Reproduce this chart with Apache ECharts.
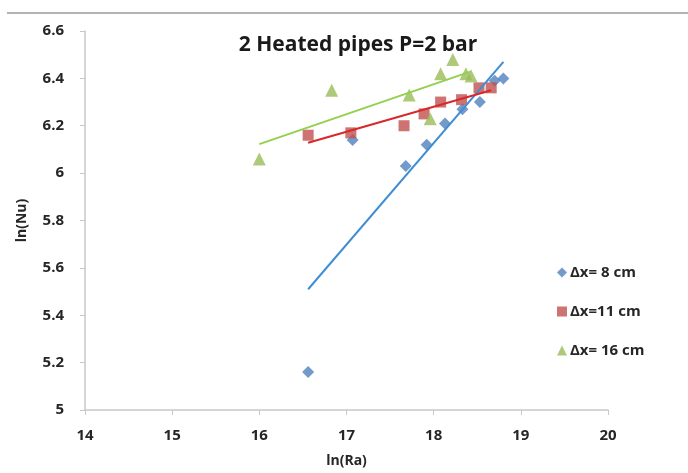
<!DOCTYPE html>
<html>
<head>
<meta charset="utf-8">
<script src="https://cdn.jsdelivr.net/npm/echarts@6/dist/echarts.min.js"></script>
<style>
  html, body { margin: 0; padding: 0; background: #fff; }
  #chart { width: 688px; height: 473px; }
</style>
</head>
<body>
<div id="chart"></div>
<script>
// ln(Ra) / ln(Nu) measurements for three pipe spacings
const dx8X  = [16.56, 17.07, 17.68, 17.92, 18.13, 18.33, 18.53, 18.70, 18.80];
const dx8Y  = [5.16, 6.14, 6.03, 6.12, 6.21, 6.27, 6.30, 6.39, 6.40];
const dx11X = [16.56, 17.05, 17.66, 17.89, 18.08, 18.32, 18.52, 18.66];
const dx11Y = [6.16, 6.17, 6.20, 6.25, 6.30, 6.31, 6.36, 6.36];
const dx16X = [16.00, 16.83, 17.72, 17.96, 18.08, 18.22, 18.37, 18.43];
const dx16Y = [6.06, 6.35, 6.33, 6.23, 6.42, 6.48, 6.42, 6.41];
const seriesNames = ['\u0394x= 8 cm', '\u0394x=11 cm', '\u0394x= 16 cm'];
const xTicks = [14, 15, 16, 17, 18, 19, 20];
const yTicks = [5, 5.2, 5.4, 5.6, 5.8, 6, 6.2, 6.4, 6.6];

const pairs = (xs, ys) => xs.map((x, i) => [x, ys[i]]);

// least-squares linear trendline spanning the data range
function trend(xs, ys) {
  const n = xs.length;
  const mx = xs.reduce((a, b) => a + b, 0) / n;
  const my = ys.reduce((a, b) => a + b, 0) / n;
  let sxy = 0, sxx = 0;
  for (let i = 0; i < n; i++) {
    sxy += (xs[i] - mx) * (ys[i] - my);
    sxx += (xs[i] - mx) * (xs[i] - mx);
  }
  const k = sxy / sxx, b = my - k * mx;
  const x0 = Math.min(...xs), x1 = Math.max(...xs);
  return [[x0, k * x0 + b], [x1, k * x1 + b]];
}

const FONT = 'Open Sans';
const markerColors = ['#4f81bd', '#c0504d', '#9bbb59'];
const lineColors = ['#3f8ed4', '#d8282c', '#92d050'];

const chart = echarts.init(document.getElementById('chart'));
chart.setOption({
  animation: false,
  backgroundColor: '#ffffff',
  title: {
    text: '2 Heated pipes P=2 bar',
    left: 353, top: 30, textAlign: 'center',
    textStyle: { fontFamily: FONT, fontSize: 21, fontWeight: 'bold', color: '#1a1a1a' }
  },
  graphic: [{
    type: 'line', shape: { x1: 7, y1: 13, x2: 688, y2: 13 },
    style: { stroke: '#9a9a9a', lineWidth: 1.5 }
  }],
  grid: { left: 85, right: 80, top: 31, bottom: 58, containLabel: false },
  legend: {
    orient: 'vertical', left: 552, top: 260, itemGap: 24,
    itemWidth: 10, itemHeight: 10,
    data: [
      { name: seriesNames[0], icon: 'diamond' },
      { name: seriesNames[1], icon: 'rect' },
      { name: seriesNames[2], icon: 'triangle' }
    ],
    textStyle: { fontFamily: FONT, fontSize: 15, fontWeight: 'bold', color: '#262626', padding: [0, 0, 0, -2] }
  },
  xAxis: {
    type: 'value', min: xTicks[0], max: xTicks[xTicks.length - 1], interval: 1,
    name: 'ln(Ra)', nameLocation: 'middle', nameGap: 44,
    nameTextStyle: { fontFamily: FONT, fontSize: 14, fontWeight: 'bold', color: '#262626' },
    axisLine: { lineStyle: { color: '#c8c8c8', width: 1.5 } },
    axisTick: { show: true, length: 5, lineStyle: { color: '#c8c8c8' } },
    axisLabel: { fontFamily: FONT, fontSize: 15, fontWeight: 'bold', color: '#262626', margin: 18 },
    splitLine: { show: false }
  },
  yAxis: {
    type: 'value', min: yTicks[0], max: yTicks[yTicks.length - 1], interval: 0.2,
    name: 'ln(Nu)', nameLocation: 'middle', nameGap: 56, nameRotate: 90,
    nameTextStyle: { fontFamily: FONT, fontSize: 14, fontWeight: 'bold', color: '#262626' },
    axisLine: { show: true, lineStyle: { color: '#c8c8c8', width: 1.5 } },
    axisTick: { show: true, length: 5, lineStyle: { color: '#c8c8c8' } },
    axisLabel: {
      fontFamily: FONT, fontSize: 15, fontWeight: 'bold', color: '#262626', margin: 21,
      formatter: v => String(Math.round(v * 10) / 10)
    },
    splitLine: { show: false }
  },
  series: [
    { name: seriesNames[0], type: 'scatter', symbol: 'diamond', symbolSize: 12, z: 3,
      itemStyle: { color: markerColors[0] }, data: pairs(dx8X, dx8Y) },
    { name: seriesNames[1], type: 'scatter', symbol: 'rect', symbolSize: 11, z: 3,
      itemStyle: { color: markerColors[1] }, data: pairs(dx11X, dx11Y) },
    { name: seriesNames[2], type: 'scatter', symbol: 'triangle', symbolSize: 13, z: 3,
      itemStyle: { color: markerColors[2] }, data: pairs(dx16X, dx16Y) },
    { name: 'trend8', type: 'line', showSymbol: false, symbol: 'none', z: 4, silent: true,
      lineStyle: { color: lineColors[0], width: 2 }, data: trend(dx8X, dx8Y) },
    { name: 'trend11', type: 'line', showSymbol: false, symbol: 'none', z: 4, silent: true,
      lineStyle: { color: lineColors[1], width: 2 }, data: trend(dx11X, dx11Y) },
    { name: 'trend16', type: 'line', showSymbol: false, symbol: 'none', z: 4, silent: true,
      lineStyle: { color: lineColors[2], width: 2 }, data: trend(dx16X, dx16Y) }
  ]
});
</script>
</body>
</html>
